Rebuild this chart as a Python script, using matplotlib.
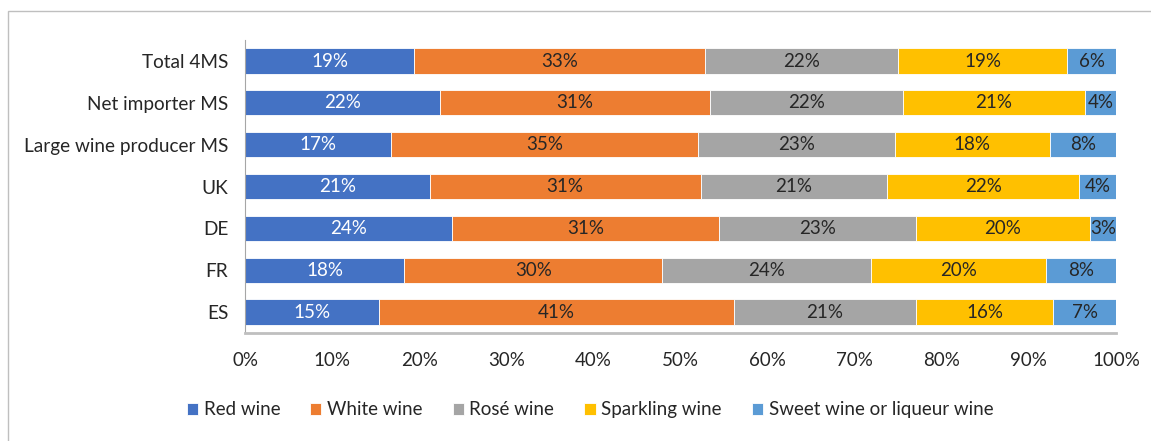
import matplotlib.pyplot as plt
from matplotlib.patches import Rectangle
import numpy as np

plt.rcParams['font.family'] = ['Lato', 'DejaVu Sans']

categories = ["Total 4MS", "Net importer MS", "Large wine producer MS", "UK", "DE", "FR", "ES"]
series = ["Red wine", "White wine", "Rosé wine", "Sparkling wine", "Sweet wine or liqueur wine"]

red_wine = [19.4, 22.4, 16.8, 21.2, 23.8, 18.3, 15.4]
white_wine = [33.4, 31.0, 35.2, 31.1, 30.6, 29.6, 40.7]
rose_wine = [22.2, 22.1, 22.6, 21.4, 22.6, 24.0, 20.9]
sparkling_wine = [19.4, 20.9, 17.8, 22.1, 20.0, 20.1, 15.8]
sweet_wine = [5.6, 3.6, 7.6, 4.2, 3.0, 8.0, 7.2]

colors = ["#4472C4", "#ED7D31", "#A5A5A5", "#FFC000", "#5B9BD5"]
label_colors = ["white", "#262626", "#262626", "#262626", "#262626"]

fig = plt.figure(figsize=(11.51, 4.41), dpi=100)
ax = fig.add_axes([0.2129, 0.245, 0.7567, 0.664])

# light frame around the chart
fig.patches.append(Rectangle((0.007, -0.01), 1.0, 0.985, transform=fig.transFigure,
                             fill=False, edgecolor="#BFBFBF", linewidth=1.0))

y = np.arange(len(categories))
left = np.zeros(len(categories))
for name, vals, c, lc in zip(series, [red_wine, white_wine, rose_wine, sparkling_wine, sweet_wine],
                             colors, label_colors):
    vals = np.array(vals)
    bars = ax.barh(y, vals, left=left, height=0.6, color=c, edgecolor="white",
                   linewidth=0.6, label=name)
    for b, v in zip(bars, vals):
        ax.text(b.get_x() + b.get_width() / 2, b.get_y() + b.get_height() / 2,
                f"{v:.0f}%", ha="center", va="center", color=lc, fontsize=13.5)
    left += vals

ax.set_xlim(0, 100)
ax.set_ylim(len(categories) - 0.5, -0.5)
ax.set_yticks(y)
ax.set_yticklabels(categories, fontsize=13.7, color="#262626")
ax.set_xticks(np.arange(0, 101, 10))
ax.set_xticklabels([f"{t}%" for t in range(0, 101, 10)], fontsize=13.5, color="#262626")
ax.tick_params(axis="y", length=0, pad=12)
ax.tick_params(axis="x", length=0, pad=14)
for s in ["top", "right"]:
    ax.spines[s].set_visible(False)
ax.spines["left"].set_color("#A6A6A6")
ax.spines["bottom"].set_color("#BFBFBF")
ax.spines["bottom"].set_linewidth(2)

ax.legend(loc="center", bbox_to_anchor=(0.396, -0.263), ncol=5, frameon=False,
          fontsize=13.5, handlelength=0.6, handleheight=0.6, handletextpad=0.3,
          columnspacing=1.6, labelcolor="#262626")

fig.savefig("out.png", dpi=100)
